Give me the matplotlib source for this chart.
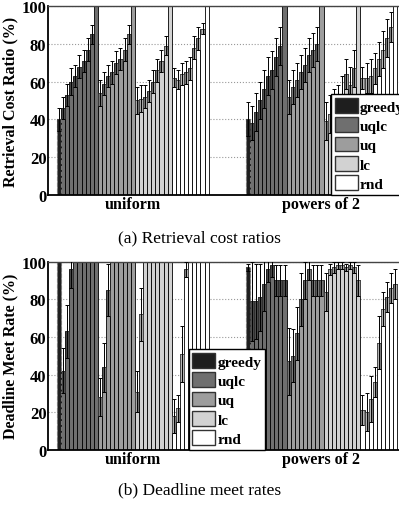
import matplotlib
matplotlib.use("Agg")
import matplotlib.pyplot as plt
from matplotlib.patches import Patch
import numpy as np

plt.rcParams['font.family'] = ['Liberation Serif', 'DejaVu Serif']

# ================ DATA ================
methods = ["greedy", "uqlc", "uq", "lc", "rnd"]
groups = ["uniform", "powers of 2"]
per_method = 9   # bars per method (greedy has one)

# retrieval cost ratio (%), bar value and spread
cost_uni_mean = [40,
                 46, 53, 60, 63, 68, 71, 77, 85, 100,
                 54, 59, 63, 65, 70, 72, 77, 85, 100,
                 50, 51, 52, 55, 60, 66, 71, 79, 100,
                 62, 61, 64, 65, 67, 78, 83, 88, 100]
cost_uni_err = [6,
                6, 6, 7, 6, 6, 6, 6, 5, 0,
                7, 6, 6, 6, 6, 6, 6, 5, 0,
                7, 7, 6, 6, 6, 6, 6, 5, 0,
                5, 5, 6, 6, 6, 6, 6, 3, 0]
cost_p2_mean = [40,
                38, 44, 50, 56, 63, 66, 73, 79, 100,
                52, 57, 61, 65, 69, 74, 77, 80, 100,
                39, 43, 46, 48, 53, 64, 58, 67, 100,
                62, 62, 63, 67, 72, 77, 83, 89, 100]
cost_p2_err = [9,
               9, 10, 10, 10, 10, 10, 10, 10, 0,
               9, 9, 9, 9, 9, 9, 9, 9, 0,
               10, 10, 10, 10, 10, 8, 10, 10, 0,
               6, 8, 9, 8, 9, 10, 10, 8, 0]

# deadline meet rate (%)
dmr_uni_mean = [100,
                42, 63, 96, 100, 100, 100, 100, 100, 100,
                28, 44, 85, 100, 100, 100, 100, 100, 100,
                31, 72, 100, 100, 100, 100, 100, 100, 100,
                18, 22, 51, 96, 100, 100, 100, 100, 100]
dmr_uni_err = [0,
               12, 14, 10, 0, 0, 0, 0, 0, 0,
               10, 13, 14, 0, 0, 0, 0, 0, 0,
               11, 14, 0, 0, 0, 0, 0, 0, 0,
               9, 7, 15, 4, 0, 0, 0, 0, 0]
dmr_p2_mean = [97,
               79, 79, 81, 88, 96, 98, 90, 90, 90,
               47, 50, 62, 80, 90, 96, 90, 90, 90,
               84, 96, 97, 98, 98, 97, 98, 97, 90,
               21, 20, 27, 36, 57, 75, 81, 86, 88]
dmr_p2_err = [2,
              21, 20, 18, 14, 7, 6, 8, 8, 8,
              18, 14, 14, 14, 10, 6, 8, 8, 8,
              10, 3, 3, 2, 2, 2, 2, 3, 8,
              8, 10, 12, 8, 14, 9, 8, 8, 8]

# ================ STYLE ================
face = {"greedy": "#1e1e1e", "uqlc": "#6f6f6f", "uq": "#9d9d9d",
        "lc": "#d2d2d2", "rnd": "#ffffff"}
boxc = {"greedy": "#1e1e1e", "uqlc": "#4e4e4e", "uq": "#777777",
        "lc": "#a6a6a6", "rnd": "#b4b4b4"}
bar_method = ["greedy"] + [m for m in methods[1:] for _ in range(per_method)]
group_start = [2.2, 48.2]
xmax = 85.8
bold = dict(fontweight="bold")


def draw_panel(ax, means, errs, ylabel, leg_x):
    for g, (m, e) in enumerate(zip(means, errs)):
        m = np.array(m, float)
        e = np.array(e, float)
        xs = group_start[g] + np.arange(len(m))
        cols = [face[k] for k in bar_method]
        ax.bar(xs[1:], m[1:], width=1, align="edge", color=cols[1:],
               edgecolor="black", linewidth=0.6, zorder=2)
        # greedy bar has a dashed outline
        ax.bar(xs[0], m[0], width=1, align="edge", color=cols[0],
               edgecolor="#777777", linewidth=0.8, linestyle="--", zorder=2)
        has = e > 0
        bcols = [boxc[k] for k, h in zip(bar_method, has) if h]
        ax.bar(xs[has] + 0.5, e[has], bottom=m[has] - e[has], width=0.75,
               color=bcols, edgecolor="#333333", linewidth=0.4, zorder=3)
        ax.errorbar(xs[has] + 0.5, m[has], yerr=e[has], fmt="none",
                    ecolor="black", elinewidth=0.7, capsize=1.6,
                    capthick=0.7, zorder=4)

    ax.set_xlim(0, xmax)
    ax.set_ylim(0, 100)
    ax.set_yticks([0, 20, 40, 60, 80, 100])
    ax.set_yticklabels(["0", "20", "40", "60", "80", "100"], fontsize=12, **bold)
    ax.set_xticks([g + 18.5 for g in group_start])
    ax.set_xticklabels(groups, fontsize=11.5, **bold)
    ax.tick_params(length=0, pad=1)
    ax.set_ylabel(ylabel, fontsize=11.5, labelpad=2, **bold)
    ax.yaxis.grid(True, linestyle=":", color="#999999", linewidth=0.8)
    ax.set_axisbelow(True)
    for s in ["left", "bottom"]:
        ax.spines[s].set_linewidth(1.3)
    ax.spines["top"].set_linewidth(1.0)
    ax.spines["top"].set_color("#444444")
    ax.spines["right"].set_visible(False)

    handles = [Patch(facecolor=face[k], edgecolor="#333333", linewidth=1.0)
               for k in methods]
    leg = ax.legend(handles, methods, loc="lower left",
                    bbox_to_anchor=(leg_x, 0.0), borderaxespad=0,
                    prop={"family": "Liberation Serif", "weight": "bold", "size": 11},
                    handlelength=1.5, handleheight=1.1, handletextpad=0.15,
                    labelspacing=0.25, borderpad=0.25, fancybox=False,
                    framealpha=1, edgecolor="black")
    leg.get_frame().set_linewidth(1.0)
    leg.set_zorder(10)


fig = plt.figure(figsize=(3.99, 5.10), dpi=100)
ax1 = fig.add_axes([0.120, 0.616, 0.882, 0.370])
ax2 = fig.add_axes([0.120, 0.116, 0.882, 0.369])

draw_panel(ax1, [cost_uni_mean, cost_p2_mean], [cost_uni_err, cost_p2_err],
           "Retrieval Cost Ratio (%)", 0.804)
draw_panel(ax2, [dmr_uni_mean, dmr_p2_mean], [dmr_uni_err, dmr_p2_err],
           "Deadline Meet Rate (%)", 0.400)

fig.text(0.5, 1 - 238 / 510, "(a) Retrieval cost ratios", ha="center",
         va="center", fontsize=12.5)
fig.text(0.5, 1 - 490 / 510, "(b) Deadline meet rates", ha="center",
         va="center", fontsize=12.5)

fig.savefig("out.png", dpi=100)
